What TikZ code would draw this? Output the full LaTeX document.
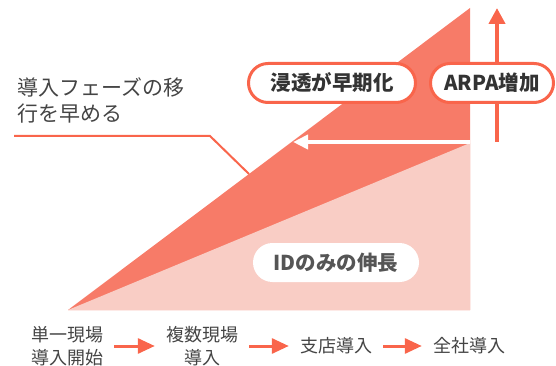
\documentclass[tikz,border=0pt]{standalone}
\usepackage{fontspec}
\setmainfont{Noto Sans CJK JP}
\usetikzlibrary{arrows.meta}
\definecolor{darkc}{HTML}{F77B68}
\definecolor{lightc}{HTML}{F9CDC5}
\definecolor{redc}{HTML}{F9654B}
\definecolor{txtc}{HTML}{333333}
\definecolor{graytxt}{HTML}{555555}
\definecolor{labtxt}{HTML}{444444}
\begin{document}
\begin{tikzpicture}[x=1pt,y=-1pt,
  pill/.style={draw=redc, line width=3pt, fill=white, rounded corners=19.5pt,
    minimum height=39pt, inner sep=0pt, text=txtc,
    font=\fontsize{20.5}{24}\selectfont\bfseries},
  idpill/.style={fill=white, rounded corners=19.5pt, minimum height=39pt,
    minimum width=166pt, inner sep=0pt, text=graytxt,
    font=\fontsize{20.5}{24}\selectfont\bfseries},
  steplabel/.style={align=center, inner sep=0pt, text=labtxt,
    font=\fontsize{18}{23}\selectfont},
  flow/.style={draw=redc, line width=3pt, -{Triangle[length=17pt,width=15pt]},
    shorten <=11pt, shorten >=11pt},
]
\useasboundingbox (0,0) rectangle (556,366);
% areas
\fill[darkc] (68,310) -- (470,8) -- (470,310) -- cycle;
\fill[lightc] (68,310) -- (470,143) -- (470,310) -- cycle;
% white arrow
\coordinate (wa0) at (470,142);
\coordinate (wa1) at (293,142);
\draw[white, line width=4pt, -{Triangle[length=15pt,width=14pt]}] (wa0) -- (wa1);
% red up arrow
\coordinate (ra0) at (497,142);
\coordinate (ra1) at (497,8);
\draw[redc, line width=4pt, -{Triangle[length=16pt,width=16pt]}] (ra0) -- (ra1);
% pills
\node[pill, minimum width=167pt] (p1) at (332,83) {浸透が早期化};
\node[pill, minimum width=123pt] (p2) at (492,83) {ARPA増加};
\node[idpill] (p3) at (336,262.5) {IDのみの伸長};
% left label
\node[anchor=west, align=left, inner sep=0pt, text=labtxt,
  font=\fontsize{21}{26}\selectfont] (lab) at (17,100) {導入フェーズの移\\行を早める};
\coordinate (lc0) at (14,136);
\coordinate (lc1) at (210,136);
\coordinate (lc2) at (249,174);
\draw[redc, line width=2pt] (lc0) -- (lc1) -- (lc2);
% bottom steps
\node[steplabel] (s1) at (67,346) {単一現場\\導入開始};
\node[steplabel] (s2) at (202,346) {複数現場\\導入};
\node[steplabel] (s3) at (336,346) {支店導入};
\node[steplabel] (s4) at (469,346) {全社導入};
\draw[flow] (s1) -- (s2);
\draw[flow] (s2) -- (s3);
\draw[flow] (s3) -- (s4);
\end{tikzpicture}
\end{document}
